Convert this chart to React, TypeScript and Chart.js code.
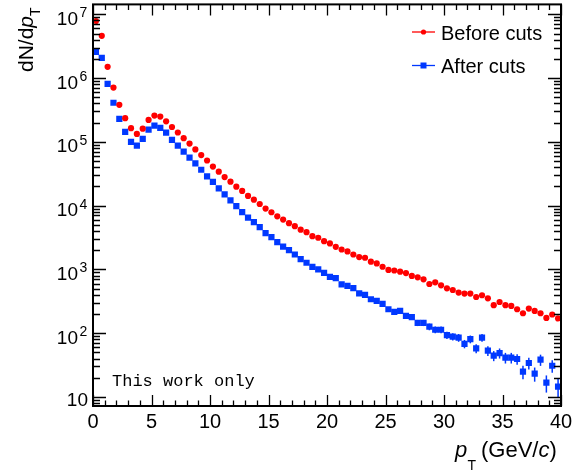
import React, { useEffect, useRef } from "react";
import { Chart, registerables } from "chart.js";
Chart.register(...registerables);

const pTBins = [
  0.25, 0.75, 1.25, 1.75, 2.25, 2.75, 3.25, 3.75, 4.25, 4.75,
  5.25, 5.75, 6.25, 6.75, 7.25, 7.75, 8.25, 8.75, 9.25, 9.75,
  10.25, 10.75, 11.25, 11.75, 12.25, 12.75, 13.25, 13.75, 14.25, 14.75,
  15.25, 15.75, 16.25, 16.75, 17.25, 17.75, 18.25, 18.75, 19.25, 19.75,
  20.25, 20.75, 21.25, 21.75, 22.25, 22.75, 23.25, 23.75, 24.25, 24.75,
  25.25, 25.75, 26.25, 26.75, 27.25, 27.75, 28.25, 28.75, 29.25, 29.75,
  30.25, 30.75, 31.25, 31.75, 32.25, 32.75, 33.25, 33.75, 34.25, 34.75,
  35.25, 35.75, 36.25, 36.75, 37.25, 37.75, 38.25, 38.75, 39.25, 39.75,
];

const beforeCuts = [
  7.85e6, 4.6e6, 1.5e6, 7.1e5, 3.8e5, 2.35e5, 1.64e5, 1.33e5, 1.61e5, 2.21e5,
  2.58e5, 2.49e5, 2.1e5, 1.71e5, 1.4e5, 1.14e5, 9.4e4, 7.6e4, 6.2e4, 5.1e4,
  4.1e4, 3.4e4, 2.8e4, 2.37e4, 1.98e4, 1.7e4, 1.42e4, 1.24e4, 1.06e4, 8.97e3,
  7.87e3, 6.8e3, 6.04e3, 5.3e3, 4.75e3, 4.2e3, 3.83e3, 3.32e3, 3.13e3, 2.77e3,
  2.55e3, 2.26e3, 2.05e3, 1.91e3, 1.71e3, 1.56e3, 1.52e3, 1.32e3, 1.24e3, 1.1e3,
  980, 960, 920, 875, 790, 750, 698, 590, 627, 562,
  505, 475, 433, 417, 417, 369, 393, 352, 274, 308,
  274, 267, 237, 205, 243, 223, 205, 173, 196, 170,
];

const afterCuts = [
  2.58e6, 2.07e6, 8.1e5, 4.1e5, 2.3e5, 1.43e5, 1.0e5, 8.7e4, 1.11e5, 1.56e5,
  1.8e5, 1.65e5, 1.4e5, 1.07e5, 8.7e4, 7.0e4, 5.65e4, 4.6e4, 3.65e4, 2.87e4,
  2.35e4, 1.87e4, 1.5e4, 1.21e4, 9.8e3, 7.9e3, 6.5e3, 5.5e3, 4.6e3, 3.7e3,
  3.2e3, 2.67e3, 2.28e3, 2.0e3, 1.71e3, 1.45e3, 1.27e3, 1.09e3, 1.0e3, 880,
  760, 730, 580, 550, 510, 420, 397, 340, 320, 287,
  237, 215, 223, 186, 178, 145, 145, 126, 113, 113,
  93, 88, 85, 68, 80.5, 57.7, 85, 53, 44.3, 48.7,
  41.2, 41.2, 39.3, 24.9, 34, 23.1, 38.3, 16.7, 30.8, 14.5,
];

// relative statistical errors of the "after cuts" points (only visible at high pT)
const afterCutsRelErr = [
  0, 0, 0, 0, 0, 0, 0, 0, 0, 0,
  0, 0, 0, 0, 0, 0, 0, 0, 0, 0,
  0, 0, 0, 0, 0, 0, 0, 0, 0, 0,
  0, 0, 0, 0, 0, 0, 0, 0, 0, 0,
  0.05, 0.05, 0.06, 0.06, 0.06, 0.07, 0.07, 0.07, 0.08, 0.08,
  0.08, 0.09, 0.09, 0.1, 0.1, 0.11, 0.11, 0.12, 0.12, 0.12,
  0.13, 0.13, 0.14, 0.15, 0.14, 0.16, 0.14, 0.17, 0.18, 0.18,
  0.19, 0.19, 0.19, 0.24, 0.21, 0.25, 0.2, 0.3, 0.22, 0.32,
];

const xMajorTicks = [0, 5, 10, 15, 20, 25, 30, 35, 40];
const yDecadeExponents = [1, 2, 3, 4, 5, 6, 7];
const seriesNames = ["Before cuts", "After cuts"];

const RED = "#ff0000";
const BLUE = "#0038ff";
const SANS = '"Liberation Sans", Arial, Helvetica, sans-serif';

const rootPlugin = {
  id: "rootStyle",
  beforeDatasetsDraw(chart: any) {
    const ctx = chart.ctx;
    const xs = chart.scales.x;
    const ys = chart.scales.y;
    ctx.save();
    ctx.strokeStyle = BLUE;
    ctx.lineWidth = 1.5;
    pTBins.forEach((x, i) => {
      const e = afterCutsRelErr[i];
      if (!e) return;
      const v = afterCuts[i];
      const px = xs.getPixelForValue(x);
      ctx.beginPath();
      ctx.moveTo(px, ys.getPixelForValue(v * (1 + e)));
      ctx.lineTo(px, ys.getPixelForValue(v * (1 - e)));
      ctx.stroke();
    });
    ctx.restore();
  },
  afterDatasetsDraw(chart: any) {
    const ctx = chart.ctx;
    const xs = chart.scales.x;
    const ys = chart.scales.y;
    const { left, right, top, bottom } = chart.chartArea;
    ctx.save();
    ctx.strokeStyle = "#000";
    ctx.fillStyle = "#000";

    // ticks
    ctx.lineWidth = 1.3;
    ctx.beginPath();
    for (let v = 0; v <= 40; v += 1) {
      const px = Math.round(xs.getPixelForValue(v)) + 0.5;
      const len = v % 5 === 0 ? 11 : 5.5;
      ctx.moveTo(px, bottom);
      ctx.lineTo(px, bottom - len);
      ctx.moveTo(px, top);
      ctx.lineTo(px, top + len);
    }
    for (let d = 0; d <= 7; d++) {
      for (let m = 1; m <= 9; m++) {
        const val = m * Math.pow(10, d);
        if (val < ys.min || val > ys.max) continue;
        const py = Math.round(ys.getPixelForValue(val)) + 0.5;
        const len = m === 1 ? 13 : 7;
        ctx.moveTo(left, py);
        ctx.lineTo(left + len, py);
        ctx.moveTo(right, py);
        ctx.lineTo(right - len, py);
      }
    }
    ctx.stroke();

    // frame
    ctx.lineWidth = 2;
    ctx.strokeRect(left, top, right - left, bottom - top);

    // x tick labels
    ctx.font = `20px ${SANS}`;
    ctx.textAlign = "center";
    ctx.textBaseline = "alphabetic";
    xMajorTicks.forEach((v) => {
      ctx.fillText(String(v), xs.getPixelForValue(v), 428);
    });

    // y tick labels
    yDecadeExponents.forEach((e) => {
      const py = ys.getPixelForValue(Math.pow(10, e));
      ctx.font = `19px ${SANS}`;
      ctx.textAlign = "right";
      if (e === 1) {
        ctx.fillText("10", 88, py + 9);
      } else {
        ctx.fillText("10", 78, py + 10.5);
        ctx.textAlign = "left";
        ctx.font = `14px ${SANS}`;
        ctx.fillText(String(e), 79.5, py + 3);
      }
    });

    // x title
    ctx.textAlign = "left";
    ctx.font = `italic 22px ${SANS}`;
    ctx.fillText("p", 455, 457);
    ctx.font = `14px ${SANS}`;
    ctx.fillText("T", 467.5, 470);
    let xx = 481;
    ctx.font = `22px ${SANS}`;
    ctx.fillText("(GeV/", xx, 457);
    xx += ctx.measureText("(GeV/").width;
    ctx.font = `italic 22px ${SANS}`;
    ctx.fillText("c", xx, 457);
    xx += ctx.measureText("c").width;
    ctx.font = `22px ${SANS}`;
    ctx.fillText(")", xx, 457);

    // y title
    ctx.save();
    ctx.translate(33, 72);
    ctx.rotate(-Math.PI / 2);
    ctx.textAlign = "left";
    ctx.font = `21px ${SANS}`;
    ctx.fillText("dN/d", 0, 0);
    let yy = ctx.measureText("dN/d").width;
    ctx.font = `italic 21px ${SANS}`;
    ctx.fillText("p", yy, 0);
    yy += ctx.measureText("p").width;
    ctx.font = `14px ${SANS}`;
    ctx.fillText("T", yy, 7);
    ctx.restore();

    // legend
    const legendRows = [
      { name: seriesNames[0], color: RED, y: 32, marker: "circle" },
      { name: seriesNames[1], color: BLUE, y: 65.5, marker: "rect" },
    ];
    legendRows.forEach((r) => {
      ctx.strokeStyle = r.color;
      ctx.fillStyle = r.color;
      ctx.lineWidth = 1.3;
      ctx.beginPath();
      ctx.moveTo(412, r.y);
      ctx.lineTo(435, r.y);
      ctx.stroke();
      if (r.marker === "circle") {
        ctx.beginPath();
        ctx.arc(423.5, r.y, 2.6, 0, Math.PI * 2);
        ctx.fill();
      } else {
        ctx.fillRect(420.5, r.y - 3, 6, 6);
      }
      ctx.fillStyle = "#000";
      ctx.font = `20px ${SANS}`;
      ctx.textAlign = "left";
      ctx.fillText(r.name, 441, r.y + 7.5);
    });

    // annotation
    ctx.fillStyle = "#000";
    ctx.font = `17px "Liberation Mono", "Courier New", monospace`;
    ctx.textAlign = "left";
    ctx.fillText("This work only", 112, 386);

    ctx.restore();
  },
};

export default function App() {
  const ref = useRef<HTMLCanvasElement>(null);
  useEffect(() => {
    const chart = new Chart(ref.current!, {
      type: "scatter",
      data: {
        datasets: [
          {
            label: seriesNames[0],
            data: pTBins.map((x, i) => ({ x, y: beforeCuts[i] })),
            pointStyle: "circle",
            pointRadius: 3.1,
            backgroundColor: RED,
            borderColor: RED,
            borderWidth: 0,
            showLine: false,
          },
          {
            label: seriesNames[1],
            data: pTBins.map((x, i) => ({ x, y: afterCuts[i] })),
            pointStyle: "rect",
            pointRadius: 4.4,
            backgroundColor: BLUE,
            borderColor: BLUE,
            borderWidth: 0,
            showLine: false,
          },
        ],
      },
      options: {
        responsive: false,
        animation: false,
        devicePixelRatio: 1,
        layout: { padding: { top: 4, right: 11, left: 0, bottom: 0 } },
        plugins: { legend: { display: false }, tooltip: { enabled: false } },
        scales: {
          x: {
            type: "linear",
            min: 0,
            max: 40,
            grid: { display: false },
            border: { display: false },
            ticks: { display: false },
            afterFit: (s: any) => {
              s.height = 66;
            },
          },
          y: {
            type: "logarithmic",
            min: 7.2,
            max: 1.43e7,
            grid: { display: false },
            border: { display: false },
            ticks: { display: false },
            afterFit: (s: any) => {
              s.width = 93;
            },
          },
        },
      },
      plugins: [rootPlugin],
    } as any);
    return () => chart.destroy();
  }, []);
  return (
    <div style={{ position: "fixed", left: 0, top: 0, width: 572, height: 472, background: "#fff" }}>
      <canvas ref={ref} width={572} height={472} style={{ display: "block", width: 572, height: 472 }} />
    </div>
  );
}
